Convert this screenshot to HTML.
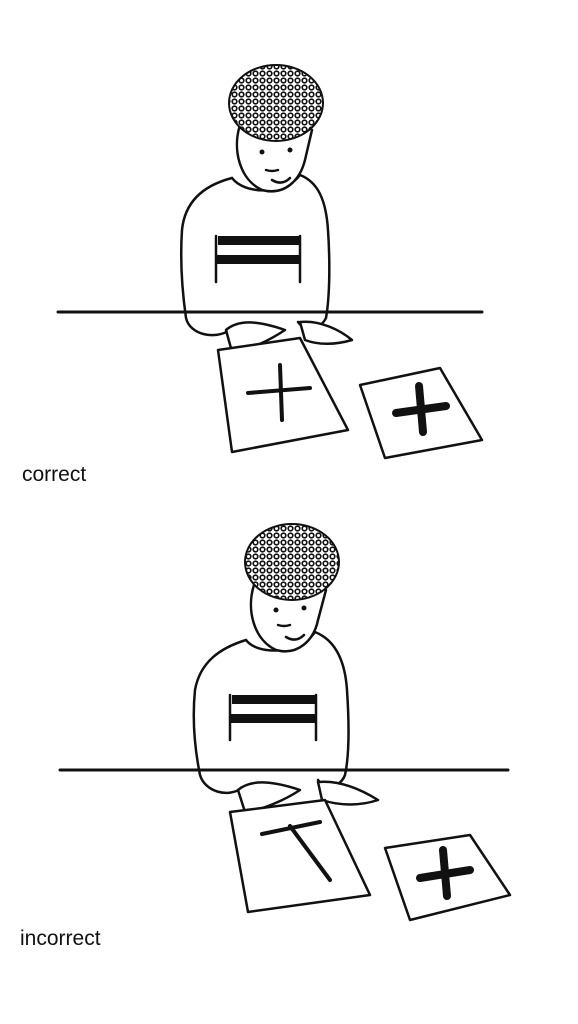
<!DOCTYPE html>
<html><head><meta charset="utf-8"><style>
html,body{margin:0;padding:0;background:#fff;width:578px;height:1024px;overflow:hidden}
svg{display:block}
text{font-family:"Liberation Sans",sans-serif;fill:#111}
</style></head><body>
<svg width="578" height="1024" viewBox="0 0 578 1024" fill="none" stroke="#111" stroke-width="2.5" stroke-linejoin="round" stroke-linecap="round">
<defs>
<pattern id="curl" width="7" height="7" patternUnits="userSpaceOnUse">
<rect width="7" height="7" fill="#fff" stroke="none"/>
<circle cx="3.5" cy="3.5" r="2.3" fill="none" stroke="#111" stroke-width="1.6"/>
</pattern>
</defs>

<g>
  <line x1="58" y1="312" x2="482" y2="312" stroke-width="3"/>
  <path d="M232,178 C205,185 185,200 182,230 C180,260 182,290 186,318 C190,335 215,340 230,330 M300,175 C318,182 326,200 328,230 C330,260 330,295 326,318 C320,330 305,332 298,322"/>
  <path d="M232,178 C245,195 285,195 300,175"/>
  <rect x="218" y="236" width="82" height="9" fill="#111" stroke="none"/>
  <rect x="216" y="255" width="84" height="9" fill="#111" stroke="none"/>
  <line x1="216" y1="236" x2="216" y2="282"/>
  <line x1="300" y1="236" x2="300" y2="282"/>
  <path d="M240,125 C232,150 240,180 262,190 C285,196 300,180 305,160 L312,130" fill="#fff"/>
  <ellipse cx="276" cy="103" rx="47" ry="38" fill="url(#curl)" stroke-width="2"/>
  <path d="M266,170 q6,2 12,0 M272,180 q10,6 18,-2"/>
  <circle cx="262" cy="152" r="2.5" fill="#111" stroke="none"/><circle cx="290" cy="150" r="2.5" fill="#111" stroke="none"/>
  <path d="M226,330 C240,318 262,322 285,330 C270,340 250,350 232,352 Z" fill="#fff"/>
  <path d="M300,322 C320,320 340,330 352,340 C335,345 318,345 305,340 Z" fill="#fff"/>
  <polygon points="218,350 300,338 348,430 232,452" fill="#fff"/>
  <path d="M248,393 L310,388 M280,365 L282,420" stroke-width="4"/>
  <polygon points="360,385 440,368 482,440 385,458" fill="#fff"/>
  <path d="M396,413 L446,406 M419,386 L423,432" stroke-width="8"/>
  <text x="22" y="481" font-size="21" stroke="none">correct</text>
</g>

<g>
  <line x1="60" y1="770" x2="508" y2="770" stroke-width="3"/>
  <path d="M246,640 C220,648 200,662 195,690 C192,720 195,750 200,775 C205,792 228,798 242,788 M315,632 C335,640 345,660 347,690 C349,720 350,752 345,775 C340,788 325,790 318,780"/>
  <path d="M246,640 C258,656 300,654 315,632"/>
  <rect x="232" y="695" width="84" height="9" fill="#111" stroke="none"/>
  <rect x="230" y="714" width="86" height="9" fill="#111" stroke="none"/>
  <line x1="230" y1="695" x2="230" y2="740"/>
  <line x1="316" y1="695" x2="316" y2="740"/>
  <path d="M254,585 C246,610 254,640 276,650 C298,656 314,640 318,620 L326,590" fill="#fff"/>
  <ellipse cx="292" cy="562" rx="47" ry="38" fill="url(#curl)" stroke-width="2"/>
  <path d="M278,625 q6,2 12,0 M286,637 q10,6 18,-2"/>
  <circle cx="276" cy="610" r="2.5" fill="#111" stroke="none"/><circle cx="304" cy="608" r="2.5" fill="#111" stroke="none"/>
  <path d="M238,790 C252,778 276,782 300,790 C285,800 262,810 245,812 Z" fill="#fff"/>
  <path d="M318,782 C340,780 362,790 378,800 C360,806 340,806 322,800 Z" fill="#fff"/>
  <polygon points="230,812 325,800 370,895 248,912" fill="#fff"/>
  <path d="M262,834 L320,822 M290,826 L330,880" stroke-width="4"/>
  <polygon points="385,848 470,835 510,895 410,920" fill="#fff"/>
  <path d="M420,878 L470,870 M443,850 L447,896" stroke-width="8"/>
  <text x="20" y="945" font-size="21" stroke="none">incorrect</text>
</g>
</svg>
</body></html>
